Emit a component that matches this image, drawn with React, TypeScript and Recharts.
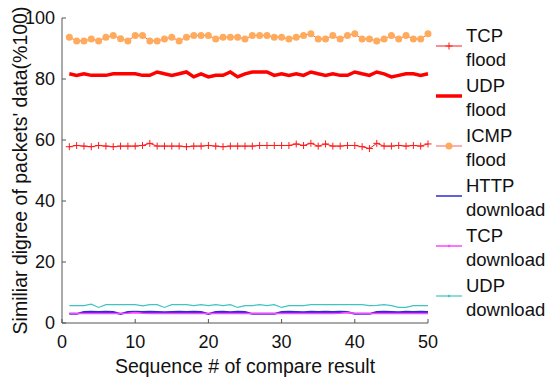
import React from 'react';
import { LineChart, Line, XAxis, YAxis, Legend } from 'recharts';

// sequence # of compare result
const sequence = [
  1, 2, 3, 4, 5, 6, 7, 8, 9, 10, 11, 12, 13, 14, 15, 16, 17, 18, 19, 20, 21, 22, 23, 24, 25,
  26, 27, 28, 29, 30, 31, 32, 33, 34, 35, 36, 37, 38, 39, 40, 41, 42, 43, 44, 45, 46, 47, 48, 49, 50,
];

const tcpFlood = [
  57.8, 58.2, 58.0, 57.8, 58.2, 58.0, 57.8, 58.0, 58.0, 58.0, 58.2, 58.9, 58.0, 58.0, 58.0, 58.0, 57.8,
  58.0, 58.0, 58.2, 58.0, 57.8, 58.0, 58.0, 58.0, 58.0, 58.2, 58.2, 58.2, 58.2, 58.2, 58.7, 58.2, 58.9,
  58.0, 58.7, 58.0, 58.0, 58.2, 58.2, 57.8, 57.2, 58.9, 58.0, 58.0, 58.2, 58.0, 58.2, 58.0, 58.7,
];
const udpFlood = [
  81.7, 81.2, 81.7, 81.2, 81.2, 81.2, 81.7, 81.7, 81.7, 81.7, 81.2, 81.2, 82.3, 81.7, 81.2, 81.7, 82.3,
  80.7, 81.7, 80.7, 81.2, 81.2, 82.3, 80.7, 81.7, 82.3, 82.3, 82.3, 81.2, 81.7, 81.2, 81.7, 81.2, 82.3,
  81.7, 81.2, 81.7, 81.2, 81.2, 82.3, 81.7, 81.2, 82.3, 81.7, 80.7, 81.2, 81.7, 81.7, 81.2, 81.7,
];
const icmpFlood = [
  93.7, 92.5, 92.5, 93.1, 92.5, 93.7, 94.3, 93.2, 92.5, 94.3, 94.3, 92.5, 92.5, 93.1, 93.7, 92.5, 93.7,
  94.3, 94.3, 94.3, 93.1, 93.7, 93.7, 93.7, 93.1, 94.3, 94.3, 94.3, 93.7, 93.7, 93.1, 93.7, 94.3, 94.8,
  93.1, 93.1, 94.3, 93.1, 94.3, 94.8, 93.1, 93.1, 92.5, 93.1, 94.3, 93.1, 94.3, 93.1, 93.1, 94.8,
];
const httpDownload = [
  3.0, 3.0, 3.6, 3.7, 3.6, 3.7, 3.6, 3.0, 3.6, 3.7, 3.6, 3.7, 3.6, 3.5, 3.6, 3.7, 3.6, 3.7, 3.6, 3.0,
  3.6, 3.7, 3.5, 3.7, 3.6, 3.0, 3.0, 3.0, 3.0, 3.6, 3.7, 3.6, 3.5, 3.7, 3.6, 3.7, 3.6, 3.7, 3.6, 3.0,
  3.0, 3.0, 3.6, 3.7, 3.6, 3.5, 3.7, 3.6, 3.7, 3.6,
];
const tcpDownload = [
  3.1, 3.1, 3.1, 3.1, 3.1, 3.1, 3.1, 3.1, 3.2, 3.4, 3.2, 3.1, 3.1, 3.1, 3.1, 3.1, 3.1, 3.1, 3.1, 3.1,
  3.1, 3.1, 3.1, 3.1, 3.1, 3.1, 3.1, 3.1, 3.1, 3.1, 3.1, 3.1, 3.1, 3.1, 3.1, 3.1, 3.1, 3.2, 3.4, 3.2,
  3.1, 3.1, 3.1, 3.1, 3.1, 3.1, 3.1, 3.1, 3.1, 3.1,
];
const udpDownload = [
  5.7, 5.7, 5.7, 6.2, 5.1, 6.0, 6.0, 6.0, 6.0, 6.0, 5.6, 6.0, 6.0, 5.1, 6.0, 6.0, 6.0, 5.7, 6.0, 5.7,
  6.0, 5.7, 6.0, 5.1, 5.7, 5.7, 6.0, 5.7, 6.0, 5.1, 5.7, 5.7, 5.7, 6.0, 6.0, 6.0, 6.0, 6.0, 6.0, 6.0,
  6.0, 5.7, 5.8, 6.0, 5.7, 5.1, 5.1, 5.7, 5.7, 5.7,
];

const xTicks = [0, 10, 20, 30, 40, 50];
const yTicks = [0, 20, 40, 60, 80, 100];

const data = sequence.map((seq, i) => ({
  seq,
  tcpFlood: tcpFlood[i],
  udpFlood: udpFlood[i],
  icmpFlood: icmpFlood[i],
  httpDownload: httpDownload[i],
  tcpDownload: tcpDownload[i],
  udpDownload: udpDownload[i],
}));

const FONT = '"Liberation Sans", Arial, Helvetica, sans-serif';
const AXIS = '#555';

const PlusDot = (props: any) => {
  const { cx, cy, index } = props;
  if (cx == null || cy == null) return <g key={index} />;
  return (
    <path
      key={index}
      d={`M${cx - 3.5},${cy}H${cx + 3.5}M${cx},${cy - 3.5}V${cy + 3.5}`}
      stroke="#ff1a1a"
      strokeWidth={1}
      fill="none"
    />
  );
};

const series = [
  { key: 'tcpFlood', l1: 'TCP', l2: 'flood', stroke: '#ff1a1a', width: 1, marker: 'plus' },
  { key: 'udpFlood', l1: 'UDP', l2: 'flood', stroke: '#ff0000', width: 3.5, marker: 'none' },
  { key: 'icmpFlood', l1: 'ICMP', l2: 'flood', stroke: '#ff3030', width: 0.8, marker: 'circle' },
  { key: 'httpDownload', l1: 'HTTP', l2: 'download', stroke: '#2b2bd6', width: 1.5, marker: 'none' },
  { key: 'tcpDownload', l1: 'TCP', l2: 'download', stroke: '#ff45ff', width: 1.5, marker: 'dot' },
  { key: 'udpDownload', l1: 'UDP', l2: 'download', stroke: '#3fc4c4', width: 1.2, marker: 'dot' },
];

const LegendBox = () => (
  <div style={{ fontFamily: FONT, fontSize: 18.5, lineHeight: '24px', color: '#111' }}>
    {series.map((s) => (
      <div key={s.key} style={{ position: 'relative', height: 50 }}>
        <svg width={27} height={50} style={{ position: 'absolute', left: 0, top: 0 }}>
          <line x1={0} x2={26} y1={22} y2={22} stroke={s.stroke} strokeWidth={s.width} />
          {s.marker === 'plus' && (
            <path d="M9.5,22H16.5M13,18.5V25.5" stroke="#ff1a1a" strokeWidth={1} fill="none" />
          )}
          {s.marker === 'circle' && <circle cx={13} cy={22} r={3.5} fill="#ffab5e" />}
          {s.marker === 'dot' && <circle cx={13} cy={22} r={1.3} fill={s.stroke} />}
        </svg>
        <div style={{ position: 'absolute', left: 30, top: 0, whiteSpace: 'nowrap' }}>
          {s.l1}
          <br />
          {s.l2}
        </div>
      </div>
    ))}
  </div>
);

const App = () => {
  return (
    <div style={{ position: 'absolute', left: 0, top: 0, background: '#fff', fontFamily: FONT }}>
      <LineChart width={549} height={378} data={data} margin={{ top: 18, right: 121, bottom: 0, left: 16 }}>
        <XAxis
          dataKey="seq"
          type="number"
          domain={[0, 50]}
          ticks={xTicks}
          interval={0}
          height={55}
          tickSize={-4}
          tickMargin={16}
          stroke={AXIS}
          tick={{ fontSize: 18, fill: '#111' }}
          label={{ value: 'Sequence # of compare result', position: 'insideBottom', offset: 5, fontSize: 19.5, fill: '#111' }}
        />
        <XAxis
          xAxisId="top"
          orientation="top"
          dataKey="seq"
          type="number"
          domain={[0, 50]}
          allowDataOverflow
          ticks={xTicks}
          interval={0}
          height={0}
          tickSize={-4}
          tick={false}
          stroke={AXIS}
        />
        <YAxis
          type="number"
          domain={[0, 100]}
          ticks={yTicks}
          interval={0}
          width={46}
          tickSize={-4}
          tickMargin={11}
          stroke={AXIS}
          tick={{ fontSize: 18, fill: '#111' }}
          label={{
            value: "Similiar digree of packets' data(%100)",
            angle: -90,
            position: 'insideLeft',
            offset: 4,
            fontSize: 19.5,
            fill: '#111',
            style: { textAnchor: 'middle' },
          }}
        />
        <YAxis
          yAxisId="right"
          orientation="right"
          type="number"
          domain={[0, 100]}
          allowDataOverflow
          ticks={yTicks}
          interval={0}
          width={0}
          tickSize={-4}
          tick={false}
          stroke={AXIS}
        />
        <Legend
          layout="vertical"
          align="center"
          verticalAlign="middle"
          content={() => <LegendBox />}
          wrapperStyle={{ left: 436, top: 24, width: 113 }}
        />
        <Line
          dataKey="tcpFlood"
          type="linear"
          stroke="#ff1a1a"
          strokeWidth={1}
          dot={PlusDot}
          isAnimationActive={false}
        />
        <Line
          dataKey="udpFlood"
          type="linear"
          stroke="#ff0000"
          strokeWidth={3.5}
          dot={false}
          isAnimationActive={false}
        />
        <Line
          dataKey="icmpFlood"
          type="linear"
          stroke="#ff3030"
          strokeWidth={0.8}
          dot={{ r: 3.5, fill: '#ffab5e', stroke: 'none', fillOpacity: 1 }}
          isAnimationActive={false}
        />
        <Line
          dataKey="httpDownload"
          type="linear"
          stroke="#2b2bd6"
          strokeWidth={2}
          dot={false}
          isAnimationActive={false}
        />
        <Line
          dataKey="tcpDownload"
          type="linear"
          stroke="#ff45ff"
          strokeWidth={1.6}
          dot={false}
          isAnimationActive={false}
        />
        <Line
          dataKey="udpDownload"
          type="linear"
          stroke="#3fc4c4"
          strokeWidth={1.2}
          dot={false}
          isAnimationActive={false}
        />
      </LineChart>
    </div>
  );
};

export default App;
